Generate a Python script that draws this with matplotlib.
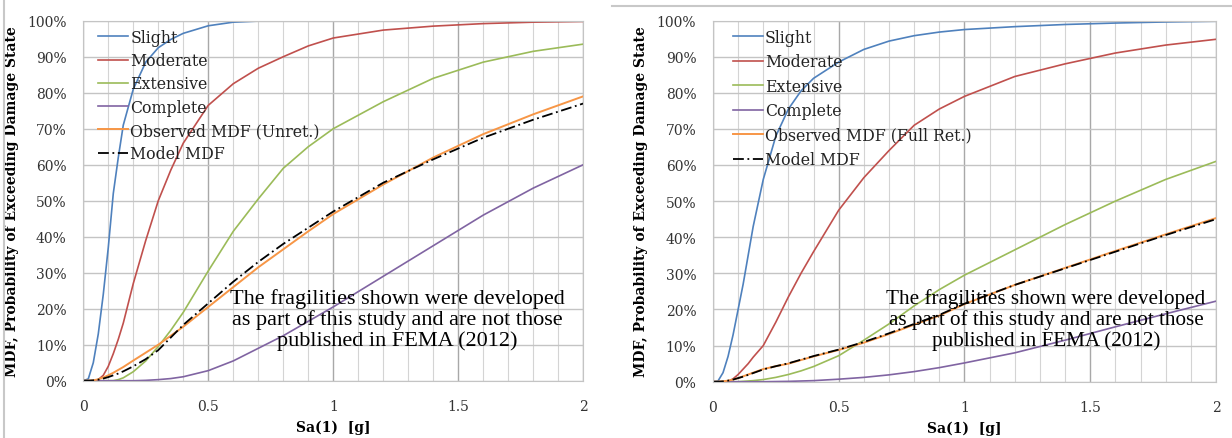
import matplotlib
matplotlib.use("Agg")
import matplotlib.pyplot as plt
from matplotlib.lines import Line2D
from matplotlib.ticker import MultipleLocator, PercentFormatter, FormatStrFormatter

sa = [0, 0.02, 0.04, 0.06, 0.08, 0.1, 0.12, 0.14, 0.16, 0.2, 0.25, 0.3, 0.35,
      0.4, 0.5, 0.6, 0.7, 0.8, 0.9, 1.0, 1.2, 1.4, 1.6, 1.8, 2.0]

# left panel: unretrofitted (percent)
slight_u = [0, 0.5, 5, 13, 24, 37, 52, 62, 71, 81, 88.5, 92.5, 94.8,
            96.5, 98.6, 99.6, 99.9, 100, 100, 100, 100, 100, 100, 100, 100]
moderate_u = [0, 0, 0, 0.3, 1.5, 4, 7.5, 11.5, 16, 27, 39, 50, 58.5,
              66, 76.5, 82.5, 86.8, 90, 93, 95.2, 97.4, 98.5, 99.2, 99.6, 99.8]
extensive_u = [0, 0, 0, 0, 0, 0, 0, 0.3, 0.8, 2.5, 5.5, 9.5, 14,
               19, 30.5, 41.5, 50.5, 59, 65, 70, 77.5, 84, 88.5, 91.5, 93.5]
complete_u = [0, 0, 0, 0, 0, 0, 0, 0, 0, 0, 0.1, 0.3, 0.6,
              1.1, 2.8, 5.5, 9, 12.5, 16.5, 20.5, 29, 37.5, 46, 53.5, 60]
observed_u = [0, 0, 0.1, 0.4, 0.9, 1.5, 2.2, 3, 3.8, 5.6, 7.8, 10, 12.5,
              15, 20.5, 26, 31.5, 36.5, 41.5, 46.3, 54.5, 62, 68.5, 74, 79]
model_u = [0, 0, 0.1, 0.3, 0.6, 1, 1.5, 2, 2.6, 4, 6, 8.5, 12,
           15.5, 21.5, 27.5, 33, 38, 42.5, 47, 55, 61.5, 67.5, 72.5, 77]

# right panel: full retrofit (percent)
slight_r = [0, 0.2, 2.5, 7, 13, 20, 27, 35, 43, 56, 68, 75.5, 80.5,
            84, 88.5, 92, 94.3, 95.8, 96.8, 97.5, 98.3, 98.9, 99.3, 99.6, 99.8]
moderate_r = [0, 0, 0, 0.1, 0.8, 2, 3.5, 5, 6.8, 10, 16.5, 23.5, 30,
              36, 47.5, 56.5, 64, 71, 75.5, 79, 84.5, 88, 91, 93.2, 94.8]
extensive_r = [0, 0, 0, 0, 0, 0, 0.1, 0.2, 0.3, 0.6, 1.2, 2, 3,
               4.2, 7.2, 11.5, 16, 21, 25.5, 29.5, 36.5, 43.5, 50, 56, 61]
complete_r = [0, 0, 0, 0, 0, 0, 0, 0, 0, 0, 0.05, 0.1, 0.2,
              0.3, 0.7, 1.2, 1.9, 2.8, 3.9, 5.2, 8, 11.5, 15.2, 18.8, 22.3]
observed_r = [0, 0, 0.1, 0.3, 0.6, 1, 1.5, 2, 2.5, 3.5, 4.3, 5, 6,
              7, 8.8, 10.8, 13.2, 15.8, 18.3, 21.5, 26.8, 31.5, 36.2, 40.8, 45.3]
model_r = [0, 0, 0.1, 0.3, 0.6, 1, 1.4, 1.9, 2.4, 3.4, 4.3, 5.1, 6.1,
           7.1, 8.9, 11, 13.4, 16, 18.5, 21.6, 26.8, 31.4, 36, 40.6, 45]

labels = ["Slight", "Moderate", "Extensive", "Complete"]
colors = ["#4F81BD", "#C0504D", "#9BBB59", "#8064A2"]
note = ("The fragilities shown were developed\n"
        "as part of this study and are not those\n"
        "published in FEMA (2012)")

fig = plt.figure(figsize=(12.32, 4.39), dpi=100)
ax1 = fig.add_axes([0.0676, 0.1305, 0.4058, 0.820])
ax2 = fig.add_axes([0.5787, 0.1282, 0.4083, 0.8228])

serif = "DejaVu Serif"


def draw(ax, curves, observed, model, obs_label, txt_xy, txt_size, leg_x, leg_sp):
    for y, lab, c in zip(curves, labels, colors):
        ax.plot(sa, y, color=c, lw=1.2, label=lab)
    ax.plot(sa, observed, color="#F79646", lw=1.4, label=obs_label)
    ax.plot(sa, model, color="black", lw=1.3, ls=(0, (6, 2, 1, 2)), label="Model MDF")

    ax.set_xlim(0, 2)
    ax.set_ylim(0, 100)
    ax.xaxis.set_major_locator(MultipleLocator(0.5))
    ax.xaxis.set_minor_locator(MultipleLocator(0.1))
    ax.yaxis.set_major_locator(MultipleLocator(10))
    ax.xaxis.set_major_formatter(FormatStrFormatter("%g"))
    ax.yaxis.set_major_formatter(PercentFormatter(xmax=100, decimals=0))
    ax.grid(which="major", axis="x", color="#a8a8a8", lw=1.0)
    ax.grid(which="minor", axis="x", color="#d4d4d4", lw=0.8)
    ax.grid(which="major", axis="y", color="#c4c4c4", lw=1.0)
    ax.set_axisbelow(True)
    ax.tick_params(which="both", length=0)
    ax.tick_params(axis="x", pad=13, labelsize=10, labelcolor="#333333")
    ax.tick_params(axis="y", pad=12, labelsize=10, labelcolor="#333333")
    for t in ax.get_xticklabels() + ax.get_yticklabels():
        t.set_family(serif)
    for s in ax.spines.values():
        s.set_color("#c4c4c4")
        s.set_linewidth(0.8)

    ax.set_xlabel("Sa(1)  [g]", fontfamily=serif, fontweight="bold", fontsize=10, labelpad=5)
    ax.set_ylabel("MDF, Probability of Exceeding Damage State", fontfamily=serif,
                  fontweight="bold", fontsize=10, labelpad=6)

    leg = ax.legend(loc="upper left", bbox_to_anchor=(leg_x, 0.995), frameon=False,
                    prop={"family": serif, "size": 11.3}, handlelength=1.9,
                    handletextpad=0.15, labelspacing=leg_sp, borderaxespad=0)
    for t in leg.get_texts():
        t.set_color("#222222")

    ax.text(txt_xy[0], txt_xy[1], note, ha="center", va="center",
            fontfamily="Liberation Serif", fontsize=txt_size, linespacing=1.1)


draw(ax1, [slight_u, moderate_u, extensive_u, complete_u], observed_u, model_u,
     "Observed MDF (Unret.)", (1.255, 17.1), 16, 0.017, 0.4)
draw(ax2, [slight_r, moderate_r, extensive_r, complete_r], observed_r, model_r,
     "Observed MDF (Full Ret.)", (1.324, 17.4), 15.2, 0.027, 0.48)

# thin frame lines of the two source screenshots
fig.add_artist(Line2D([0.0035, 0.0035], [0, 1], color="#c8c8c8", lw=1.5))
fig.add_artist(Line2D([0.497, 1], [0.984, 0.984], color="#c8c8c8", lw=1.5))

fig.savefig("out.png", dpi=100)
